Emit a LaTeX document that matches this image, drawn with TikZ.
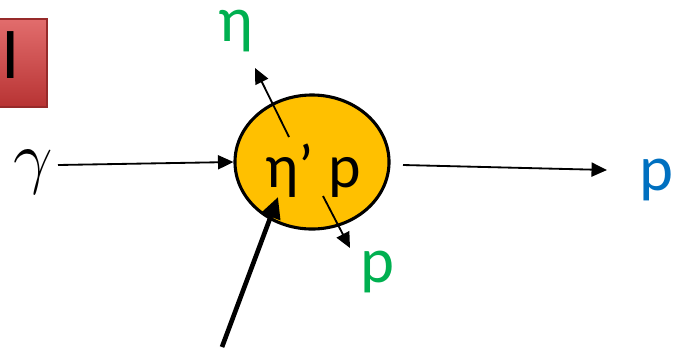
\RequirePackage{fix-cm}
\documentclass[tikz,border=0pt]{standalone}
\usepackage{fontspec}
\setmainfont{Carlito}
\usetikzlibrary{shapes.geometric, arrows.meta, positioning}
\definecolor{blobfill}{HTML}{FFC000}
\definecolor{outgreen}{HTML}{00B050}
\definecolor{outblue}{HTML}{0070C0}
\definecolor{boxred}{HTML}{D83C3C}
\tikzset{
  lbl/.style={inner sep=0pt, font=\fontsize{46}{54}\selectfont},
  blob/.style={ellipse, draw, line width=2.2pt, fill=blobfill,
               minimum width=3.85cm, minimum height=3.35cm, inner sep=0pt},
  arr/.style={-{Triangle[length=11pt, width=10pt]}, line width=1.3pt},
  bigarr/.style={-{Triangle[length=15pt, width=14pt]}, line width=3.3pt},
}

\begin{document}
\begin{tikzpicture}[x=0.025cm, y=-0.025cm]
  \useasboundingbox (0,0) rectangle (683,351);
  % tag box
  \node[rectangle, draw=boxred!70!black, line width=1pt,
        top color=boxred!75!white, bottom color=boxred!85!black,
        minimum width=2.15cm, minimum height=2.2cm, inner sep=0pt]
        (tag) at (4,63) {};
  \node[lbl, font=\fontsize{52}{60}\selectfont] (tagtxt) at (11,55) {I};
  % vertex
  \node[blob] (vtx) at (312,162) {};
  \node[lbl, font=\fontsize{44}{52}\selectfont] (vtxtxt) at (313,171) {η’ p};
  % particles
  \node[lbl, font=\fontsize{50}{58}\selectfont] (gam) at (33,172) {$\gamma$};
  \node[lbl, text=outgreen] (eta) at (236,31) {η};
  \node[lbl, text=outgreen] (pdec) at (377,272) {p};
  \node[lbl, text=outblue] (pout) at (656,180) {p};
  \coordinate (etastart) at (289,137);
  \coordinate (etaend)   at (255,68);
  \coordinate (pstart)   at (323,196);
  \coordinate (pend)     at (350,248);
  \coordinate (kick)     at (222,347);
  \coordinate (kickend)  at (278,197);
  \coordinate (gamstart) at (58,165);
  \coordinate (poutstart) at (403,165);
  \coordinate (poutend)  at (607,170);
  % lines
  \draw[arr] (gamstart) -- (vtx.west);
  \draw[arr] (poutstart) -- (poutend);
  \draw[arr] (etastart) -- (etaend);
  \draw[arr] (pstart) -- (pend);
  \draw[bigarr] (kick) -- (kickend);
\end{tikzpicture}
\end{document}
